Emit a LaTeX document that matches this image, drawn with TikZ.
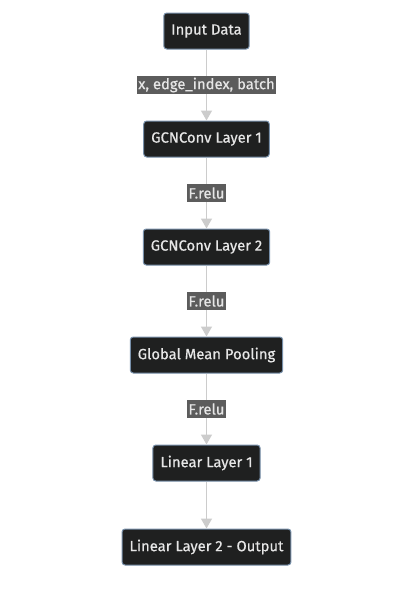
\documentclass[tikz,border=0pt]{standalone}
\usepackage{fontspec}
\setmainfont{Fira Sans}[FakeBold=0.6]
\usepackage{tikz}
\usetikzlibrary{arrows.meta, positioning}

\definecolor{nodefill}{HTML}{1F2020}
\definecolor{nodeline}{HTML}{7890AA}
\definecolor{nodetext}{HTML}{E6E6E6}
\definecolor{edgeline}{HTML}{CCCCCC}
\definecolor{lblfill}{HTML}{5C5C5C}

\begin{document}
\begin{tikzpicture}[
    x=1pt, y=1pt,
    node distance=71pt,
    layer/.style={rectangle, rounded corners=3pt, draw=nodeline, line width=1pt,
                  fill=nodefill, text=nodetext, minimum height=36pt,
                  inner xsep=7.5pt, font=\fontsize{14.8}{17}\selectfont},
    lbl/.style={rectangle, fill=lblfill, text=nodetext, inner sep=1.5pt,
                minimum height=18pt, font=\fontsize{14.8}{17}\selectfont},
    arr/.style={-{Triangle[width=11pt,length=10pt]}, line width=1.5pt, draw=edgeline}
]
\useasboundingbox[fill=white] (0,0) rectangle (410,-608);

\node[layer] (input) at (206.5,-31) {Input Data};
\node[layer, below=of input]  (gcn1)  {GCNConv Layer 1};
\node[layer, below=of gcn1]   (gcn2)  {GCNConv Layer 2};
\node[layer, below=of gcn2]   (pool)  {Global Mean Pooling};
\node[layer, below=of pool]   (lin1)  {Linear Layer 1};
\node[layer, below=47pt of lin1] (lin2) {Linear Layer 2 - Output};

\draw[arr] (input) -- node[lbl] {x, edge\_index, batch} (gcn1);
\draw[arr] (gcn1)  -- node[lbl] {F.relu} (gcn2);
\draw[arr] (gcn2)  -- node[lbl] {F.relu} (pool);
\draw[arr] (pool)  -- node[lbl] {F.relu} (lin1);
\draw[arr] (lin1)  -- (lin2);
\end{tikzpicture}
\end{document}
